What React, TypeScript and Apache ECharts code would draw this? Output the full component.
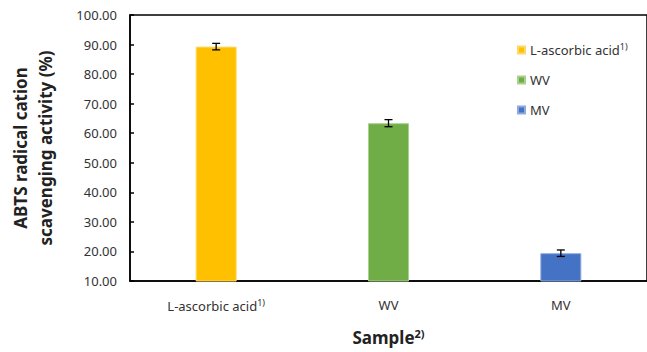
import React, { useEffect, useRef } from "react";
import * as echarts from "echarts";

const categories = ["L-ascorbic acid", "WV", "MV"];
const seriesNames = ["L-ascorbic acid", "WV", "MV"];
const values = [89.3, 63.4, 19.4];
const errors = [1.1, 1.2, 1.1];
const colors = ["#FFC000", "#70AD47", "#4472C4"];
const borderColors = ["#FFD966", "#A9D18E", "#8FAADC"];
const yTicks = { min: 10, max: 100, interval: 10 };

const FONT = "'Noto Sans', 'Open Sans', sans-serif";

export default function App() {
  const ref = useRef<HTMLDivElement>(null);
  useEffect(() => {
    if (!ref.current) return;
    const chart = echarts.init(ref.current, undefined, { renderer: "svg" });
    const bars = seriesNames.map((name, i) => ({
      name,
      type: "bar",
      barWidth: 41,
      barGap: "-100%",
      data: categories.map((_, j) => (j === i ? values[j] : "-")),
      itemStyle: { color: colors[i], borderColor: borderColors[i], borderWidth: 1 },
    }));
    const supRich = {
      base: { fontSize: 13, fontFamily: FONT, color: "#333" },
      sup: { fontSize: 9, fontFamily: FONT, color: "#333", padding: [0, 0, 7, 0] },
    };
    chart.setOption({
      animation: false,
      grid: {
        left: 126,
        top: 15,
        width: 523,
        height: 266,
        show: true,
        borderColor: "#000",
        borderWidth: 1.5,
        containLabel: false,
      },
      legend: {
        orient: "vertical",
        left: 512,
        top: 37,
        itemWidth: 7,
        itemHeight: 7,
        itemGap: 14,
        icon: "rect",
        data: seriesNames,
        formatter: (n: string) => (n === "L-ascorbic acid" ? `{base|${n}}{sup|1)}` : `{base|${n}}`),
        textStyle: {
          fontFamily: FONT,
          fontSize: 13,
          color: "#333",
          lineHeight: 16,
          rich: supRich,
        },
      },
      xAxis: {
        type: "category",
        data: categories,
        boundaryGap: true,
        axisLine: { lineStyle: { color: "#000", width: 1.5 } },
        axisTick: { inside: true, length: 4, lineStyle: { color: "#000", width: 1.5 } },
        axisLabel: {
          interval: 0,
          margin: 17,
          formatter: (v: string) => (v === "L-ascorbic acid" ? `{base|${v}}{sup|1)}` : `{base|${v}}`),
          rich: supRich,
        },
        name: "{b|Sample}{s|2)}",
        nameLocation: "middle",
        nameGap: 47,
        nameTextStyle: {
          rich: {
            b: { fontSize: 17, fontWeight: "bold", fontFamily: FONT, color: "#222" },
            s: { fontSize: 11, fontWeight: "bold", fontFamily: FONT, color: "#222", padding: [0, 0, 8, 0] },
          },
        },
      },
      yAxis: {
        type: "value",
        min: yTicks.min,
        max: yTicks.max,
        interval: yTicks.interval,
        splitLine: { show: false },
        axisLine: { show: true, lineStyle: { color: "#000", width: 1.5 } },
        axisTick: { show: true, inside: true, length: 4, lineStyle: { color: "#000", width: 1.5 } },
        axisLabel: {
          margin: 13,
          fontSize: 13,
          fontFamily: FONT,
          color: "#333",
          formatter: (v: number) => v.toFixed(2),
        },
        name: "ABTS radical cation\nscavenging activity (%)",
        nameLocation: "middle",
        nameRotate: 90,
        nameGap: 72,
        nameTextStyle: {
          fontSize: 17,
          fontWeight: "bold",
          fontFamily: FONT,
          color: "#222",
          lineHeight: 25,
        },
      },
      series: [
        ...bars,
        {
          type: "custom",
          name: "error",
          z: 10,
          data: categories.map((_, i) => [i, values[i] - errors[i], values[i] + errors[i]]),
          renderItem: (params: any, api: any) => {
            const x = api.value(0);
            const lo = api.coord([x, api.value(1)]);
            const hi = api.coord([x, api.value(2)]);
            const w = 4;
            const style = { stroke: "#000", lineWidth: 1.3 };
            return {
              type: "group",
              children: [
                { type: "line", shape: { x1: lo[0], y1: lo[1], x2: hi[0], y2: hi[1] }, style },
                { type: "line", shape: { x1: lo[0] - w, y1: lo[1], x2: lo[0] + w, y2: lo[1] }, style },
                { type: "line", shape: { x1: hi[0] - w, y1: hi[1], x2: hi[0] + w, y2: hi[1] }, style },
              ],
            };
          },
        },
      ],
    });
    return () => chart.dispose();
  }, []);
  return <div ref={ref} style={{ width: 647, height: 352, position: "absolute", left: 0, top: 0 }} />;
}
